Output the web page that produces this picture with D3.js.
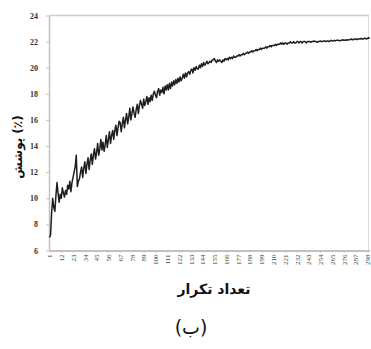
<!DOCTYPE html>
<html><head><meta charset="utf-8">
<script src="https://cdn.jsdelivr.net/npm/d3@7"></script>
<style>body{margin:0;background:#fff}svg{display:block}</style>
</head><body>
<script>
const coverage = [
7.0,7.2,8.9,10.0,9.3,9.0,10.2,11.2,10.4,9.7,
10.3,10.0,10.8,10.4,10.1,10.6,10.3,11.0,10.7,11.3,
10.5,11.2,11.6,12.0,12.4,13.3,10.9,11.3,11.5,12.0,
12.4,11.6,12.3,12.8,11.9,12.6,13.1,12.2,12.9,13.4,
12.6,13.3,13.8,13.0,13.5,14.2,13.3,13.8,14.5,13.7,
14.3,13.6,14.1,14.8,13.9,14.5,15.1,14.2,14.8,15.2,
14.5,15.2,15.6,14.8,15.4,15.9,15.8,15.1,15.7,16.2,
15.4,16.0,16.5,15.7,16.2,16.9,16.0,16.5,17.0,16.5,
16.2,16.8,17.2,16.5,17.1,17.5,17.2,16.9,17.6,17.1,
17.4,17.8,17.2,17.7,17.4,17.9,17.5,18.0,18.2,17.9,
17.7,18.2,18.4,17.9,18.3,18.1,18.5,18.0,18.6,18.3,
18.7,18.3,18.8,18.4,18.9,18.6,19.0,18.7,19.1,18.8,
19.2,18.9,19.3,19.0,19.2,19.5,19.2,19.6,19.3,19.6,
19.7,19.5,19.8,19.9,19.6,20.0,19.8,20.1,19.9,19.9,
20.2,20.0,20.3,20.1,20.4,20.2,20.3,20.5,20.3,20.4,
20.5,20.4,20.6,20.6,20.7,20.5,20.4,20.6,20.5,20.6,
20.5,20.4,20.6,20.5,20.7,20.6,20.7,20.6,20.8,20.7,
20.8,20.7,20.9,20.8,20.8,20.9,20.9,21.0,20.9,21.0,
21.0,21.1,21.0,21.1,21.1,21.2,21.1,21.2,21.2,21.3,
21.2,21.3,21.3,21.4,21.3,21.4,21.4,21.5,21.4,21.5,
21.5,21.5,21.6,21.5,21.6,21.6,21.7,21.6,21.7,21.7,
21.7,21.8,21.7,21.8,21.8,21.8,21.9,21.8,21.9,21.8,
21.9,21.9,21.8,21.9,21.9,22.0,21.9,21.9,22.0,21.9,
21.9,22.0,22.0,21.9,22.0,22.0,21.9,22.0,22.0,22.0,
21.9,22.0,22.0,22.0,21.95,22.0,22.0,22.05,22.0,22.0,
21.95,22.0,22.0,22.05,22.0,22.0,22.05,22.05,22.0,22.05,
22.05,22.0,22.05,22.1,22.05,22.05,22.1,22.05,22.1,22.1,
22.1,22.05,22.1,22.1,22.15,22.1,22.1,22.15,22.1,22.15,
22.15,22.15,22.2,22.15,22.15,22.2,22.2,22.15,22.2,22.2,
22.2,22.25,22.2,22.2,22.25,22.25,22.2,22.25,22.3,22.25
];
const iterations = coverage.map((d,i)=>i+1);
const xTickValues = d3.range(1, 300, 11);
const yTickValues = [6,8,10,12,14,16,18,20,22,24];
const yTitle = "(٪) پوشش";
const xTitle = "تعداد تکرار";
const caption = "(ب)";

const W=371,H=349;
const svg=d3.select("body").append("svg").attr("width",W).attr("height",H);
const x=d3.scaleLinear().domain([1,300]).range([49.5,369.6]);
const y=d3.scaleLinear().domain([6,24]).range([250.5,15.5]);
const axisCol="#c9bfb8";

// frame top & right
svg.append("line").attr("x1",49).attr("x2",369).attr("y1",y(24)).attr("y2",y(24)).attr("stroke","#d6cbc3").attr("stroke-width",1.5);
svg.append("line").attr("x1",368.5).attr("x2",368.5).attr("y1",y(24)).attr("y2",y(6)).attr("stroke","#e2dcd8").attr("stroke-width",1);

const ya=svg.append("g").attr("transform","translate(49,0)")
  .call(d3.axisLeft(y).tickValues(yTickValues).tickSize(3).tickSizeOuter(0).tickFormat(d3.format("d")));
ya.select(".domain").attr("stroke",axisCol).attr("stroke-width",1.5);
ya.selectAll(".tick line").attr("stroke",axisCol);
ya.selectAll(".tick text").attr("font-family","Liberation Serif").attr("font-size",8).attr("fill","#333").attr("font-weight","bold").attr("x",-11);

const xa=svg.append("g").attr("transform",`translate(0,${y(6)})`)
  .call(d3.axisBottom(x).tickValues(xTickValues).tickSize(2).tickSizeOuter(0).tickFormat(d3.format("d")));
xa.select(".domain").attr("stroke",axisCol).attr("stroke-width",2);
xa.selectAll(".tick line").attr("stroke",axisCol);
xa.selectAll(".tick text").attr("font-family","Liberation Serif").attr("font-size",7).attr("fill","#444")
  .attr("transform","rotate(-90)").attr("text-anchor","end").attr("dy","0.32em").attr("x",-4).attr("y",0);

const line=d3.line().x((d,i)=>x(iterations[i])).y(d=>y(d));
svg.append("path").datum(coverage).attr("d",line).attr("fill","none").attr("stroke","#1e1e1e").attr("stroke-width",1.5).attr("stroke-linejoin","round");

svg.append("text").attr("transform","translate(22,147) rotate(-90)").attr("text-anchor","middle")
  .attr("direction","rtl").attr("font-family","DejaVu Sans").attr("font-weight","bold").attr("font-size",12).attr("fill","#111").text(yTitle);
svg.append("text").attr("x",214).attr("y",294).attr("text-anchor","middle").attr("direction","rtl")
  .attr("font-family","DejaVu Sans").attr("font-weight","bold").attr("font-size",14).attr("fill","#111").text(xTitle);
svg.append("text").attr("x",191).attr("y",334).attr("text-anchor","middle").attr("direction","rtl")
  .attr("font-family","DejaVu Sans").attr("font-size",19).attr("fill","#111").text(caption);
</script>
</body></html>
